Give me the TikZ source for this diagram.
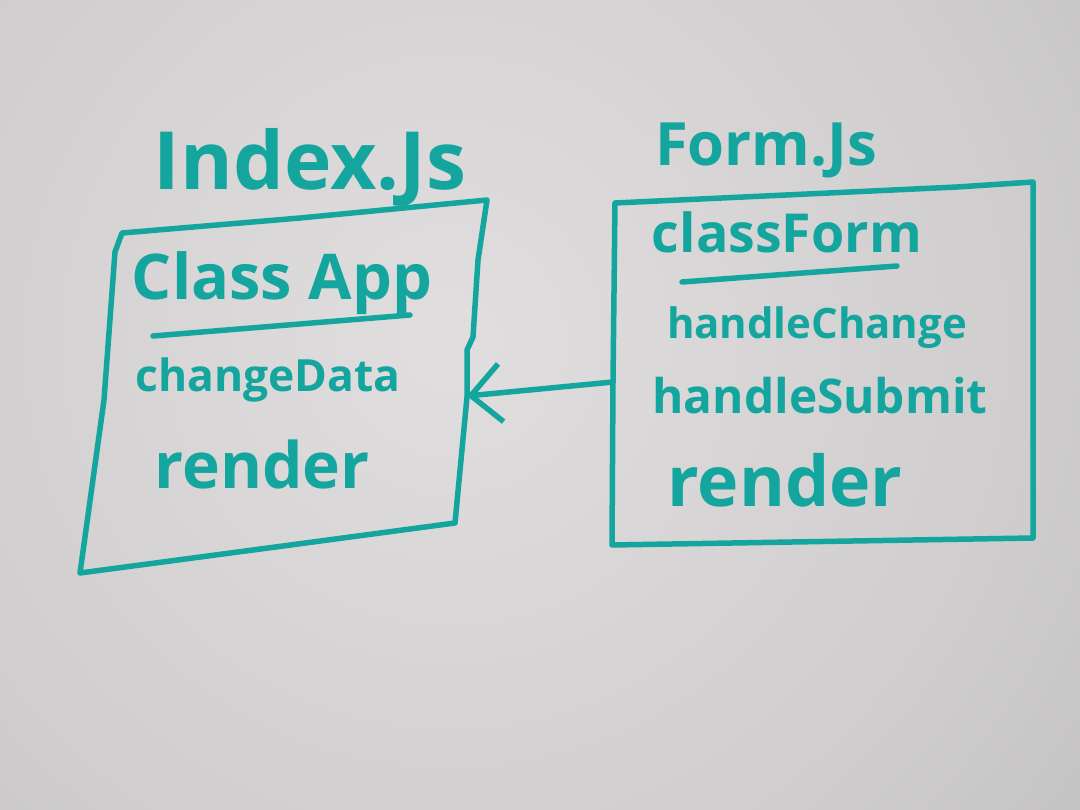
\documentclass[tikz,border=0pt]{standalone}
\usepackage{fontspec}
\usepackage{graphicx}
\setmainfont{Open Sans}
\usetikzlibrary{arrows.meta}

% marker ink and paper tones
\definecolor{ink}{RGB}{20,166,158}
\definecolor{paperlight}{RGB}{224,222,222}
\definecolor{papermid}{RGB}{207,205,205}
\definecolor{paperdark}{RGB}{162,162,164}
\pgfdeclareradialshading{paper}{\pgfpoint{0bp}{0bp}}{%
  color(0bp)=(paperlight); color(16bp)=(papermid);
  color(42bp)=(paperdark); color(50bp)=(paperdark)}

% set a word at a given width
\newcommand{\inkwidth}[2]{\resizebox{#1pt}{!}{#2}}

\tikzset{
  marker/.style={draw=ink, line width=5.5pt, line cap=round, line join=round},
  handtext/.style={text=ink, inner sep=0pt, font=\fontsize{40}{48}\selectfont\bfseries},
}

\begin{document}
\begin{tikzpicture}[x=1pt,y=-1pt]
\useasboundingbox (0,0) rectangle (1080,810);

% paper
\begin{scope}
  \clip (0,0) rectangle (1080,810);
  \shade[shading=paper] (-450,-560) rectangle (1350,1240);
\end{scope}

% Index.Js box
\draw[marker] (122,233) -- (300,218) -- (487,200) -- (478,260) -- (473,337)
  -- (467,350) -- (467,397) -- (455,523) -- (268,548) -- (80,573)
  -- (104,400) -- (115,252) -- cycle;
\draw[marker] (153,336) -- (410,315);

% Form.Js box
\draw[marker] (615,203) -- (957,187) -- (1033,182) -- (1033,538)
  -- (612,545) -- (613,382) -- cycle;
\draw[marker] (682,282) -- (897,266);

% titles
\node[handtext] (indexjs) at (310,167) {\inkwidth{312}{Index.Js}};
\node[handtext] (formjs)  at (766,150) {\inkwidth{222}{Form.Js}};

% class App members
\node[handtext] (classapp)   at (282,283) {\inkwidth{300}{Class App}};
\node[handtext] (changedata) at (268,380) {\inkwidth{265}{changeData}};
\node[handtext] (renderapp)  at (262,465) {\inkwidth{215}{render}};

% class Form members
\node[handtext] (classform)    at (787,232) {\inkwidth{270}{classForm}};
\node[handtext] (handlechange) at (817,328) {\inkwidth{300}{handleChange}};
\node[handtext] (handlesubmit) at (820,396) {\inkwidth{335}{handleSubmit}};
\node[handtext] (renderform)   at (785,480) {\inkwidth{235}{render}};

% dependency arrow
\coordinate (formport) at (613,382);
\coordinate (appport)  at (467,396);
\draw[marker, -{Straight Barb[length=30pt,width=58pt]}] (formport) -- (appport);
\end{tikzpicture}
\end{document}
